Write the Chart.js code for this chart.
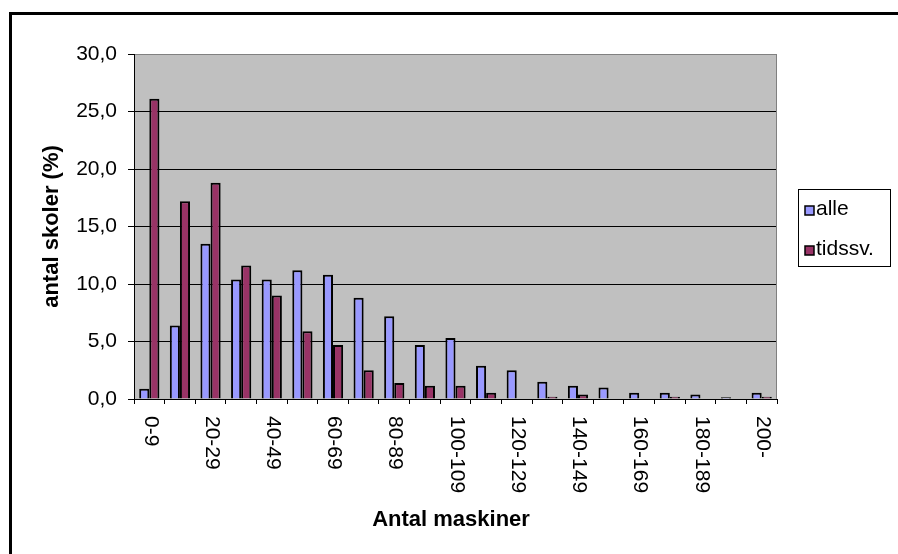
<!DOCTYPE html>
<html>
<head>
<meta charset="utf-8">
<script src="https://cdn.jsdelivr.net/npm/chart.js@4.4.1/dist/chart.umd.min.js"></script>
<style>
  html, body { margin: 0; padding: 0; background: #fff; }
  #wrap { width: 898px; height: 554px; position: relative; }
</style>
</head>
<body>
<div id="wrap"><canvas id="chart" width="898" height="554"></canvas></div>
<script>
var categories = ['0-9', '10-19', '20-29', '30-39', '40-49', '50-59', '60-69', '70-79', '80-89', '90-99',
  '100-109', '110-119', '120-129', '130-139', '140-149', '150-159', '160-169', '170-179', '180-189', '190-199', '200-'];
var alleValues = [0.9, 6.4, 13.5, 10.4, 10.4, 11.2, 10.8, 8.8, 7.2, 4.7,
  5.3, 2.9, 2.5, 1.5, 1.15, 1.0, 0.55, 0.55, 0.4, 0.15, 0.55];
var tidssvValues = [26.1, 17.2, 18.8, 11.6, 9.0, 5.9, 4.7, 2.5, 1.4, 1.15,
  1.15, 0.55, 0, 0.2, 0.4, 0, 0, 0.2, 0, 0, 0.2];
var yTicks = [0, 5, 10, 15, 20, 25, 30];
var seriesNames = ['alle', 'tidssv.'];
var yTitle = 'antal skoler (%)';
var xTitle = 'Antal maskiner';

var FONT = "'Liberation Sans', Arial, sans-serif";
var colors = ['#9999FF', '#993366'];

Chart.defaults.font.family = FONT;
Chart.defaults.color = '#000';

// frame, plot background, axis titles, rotated x labels and legend
var excelLook = {
  id: 'excelLook',
  beforeDraw: function (chart) {
    var ctx = chart.ctx;
    var a = chart.chartArea;
    ctx.save();
    ctx.fillStyle = '#fff';
    ctx.fillRect(0, 0, chart.width, chart.height);
    ctx.lineWidth = 3;
    ctx.strokeStyle = '#000';
    ctx.strokeRect(10.5, 13.5, chart.width + 20, chart.height + 20);
    ctx.fillStyle = '#C0C0C0';
    ctx.fillRect(a.left, a.top, a.right - a.left, a.bottom - a.top);
    ctx.restore();
  },
  beforeDatasetsDraw: function (chart) {
    var ctx = chart.ctx;
    var a = chart.chartArea;
    ctx.save();
    ctx.strokeStyle = '#808080';
    ctx.lineWidth = 1;
    ctx.beginPath();
    ctx.moveTo(a.right - 0.5, a.top);
    ctx.lineTo(a.right - 0.5, a.bottom);
    ctx.stroke();
    ctx.restore();
  },
  afterDraw: function (chart) {
    var ctx = chart.ctx;
    var a = chart.chartArea;
    var xScale = chart.scales.x;
    ctx.save();
    ctx.fillStyle = '#000';

    // x tick labels, every second category, turned clockwise
    ctx.font = '21px ' + FONT;
    ctx.textAlign = 'left';
    ctx.textBaseline = 'middle';
    categories.forEach(function (label, i) {
      if (i % 2 !== 0) return;
      var x = xScale.getPixelForValue(i) + 1;
      ctx.save();
      ctx.translate(x, 416);
      ctx.rotate(Math.PI / 2);
      ctx.fillText(label, 0, 0);
      ctx.restore();
    });

    // axis titles
    ctx.font = 'bold 22px ' + FONT;
    ctx.textAlign = 'center';
    ctx.textBaseline = 'alphabetic';
    ctx.fillText(xTitle, 451, 526);
    ctx.save();
    ctx.translate(58, (a.top + a.bottom) / 2);
    ctx.rotate(-Math.PI / 2);
    ctx.fillText(yTitle, 0, 0);
    ctx.restore();

    // legend box
    ctx.fillStyle = '#fff';
    ctx.fillRect(798, 189, 92, 77);
    ctx.strokeStyle = '#000';
    ctx.lineWidth = 1;
    ctx.strokeRect(798.5, 189.5, 92, 77);
    ctx.font = '21px ' + FONT;
    ctx.textAlign = 'left';
    ctx.textBaseline = 'middle';
    seriesNames.forEach(function (name, i) {
      var cy = 209 + i * 40;
      ctx.fillStyle = colors[i];
      ctx.fillRect(805, cy - 3, 9, 9);
      ctx.strokeStyle = '#000';
      ctx.lineWidth = 1.5;
      ctx.strokeRect(805, cy - 3, 9, 9);
      ctx.fillStyle = '#000';
      ctx.fillText(name, 816, cy);
    });
    ctx.restore();
  }
};

var ctx = document.getElementById('chart').getContext('2d');
var chart = new Chart(ctx, {
  type: 'bar',
  data: {
    labels: categories,
    datasets: [
      {
        label: seriesNames[0],
        data: alleValues,
        backgroundColor: colors[0],
        borderColor: '#000',
        borderWidth: 2,
        borderSkipped: 'start',
        categoryPercentage: 0.66,
        barPercentage: 1
      },
      {
        label: seriesNames[1],
        data: tidssvValues,
        backgroundColor: colors[1],
        borderColor: '#000',
        borderWidth: 2,
        borderSkipped: 'start',
        categoryPercentage: 0.66,
        barPercentage: 1
      }
    ]
  },
  options: {
    responsive: false,
    animation: false,
    devicePixelRatio: 1,
    layout: { padding: { left: 0, top: 54, right: 121, bottom: 0 } },
    plugins: {
      legend: { display: false },
      tooltip: { enabled: false }
    },
    scales: {
      x: {
        offset: true,
        ticks: { display: false },
        grid: {
          offset: true,
          drawOnChartArea: false,
          drawTicks: true,
          tickLength: 5,
          color: '#000'
        },
        border: { display: true, color: '#000', width: 1 },
        afterFit: function (scale) { scale.height = 155; }
      },
      y: {
        min: 0,
        max: 30,
        afterBuildTicks: function (scale) {
          scale.ticks = yTicks.map(function (v) { return { value: v }; });
        },
        ticks: {
          padding: 11,
          font: { size: 21, family: FONT },
          color: '#000',
          callback: function (v) { return Number(v).toFixed(1).replace('.', ','); }
        },
        grid: {
          drawTicks: true,
          tickLength: 6,
          color: function (c) { return c.tick && c.tick.value === 30 ? '#808080' : '#000'; },
          tickColor: '#000',
          lineWidth: 1
        },
        border: { display: true, color: '#000', width: 1 },
        afterFit: function (scale) { scale.width = 134; }
      }
    }
  },
  plugins: [excelLook]
});
</script>
</body>
</html>
